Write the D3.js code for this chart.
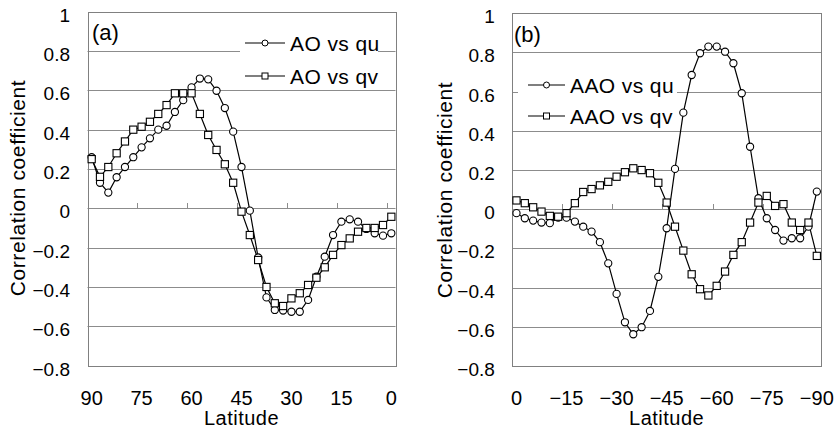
<!DOCTYPE html>
<html>
<head>
<meta charset="utf-8">
<script src="https://cdn.jsdelivr.net/npm/d3@7"></script>
<style>
  html, body { margin: 0; padding: 0; background: #fff; }
  svg { display: block; font-family: "Liberation Sans", Arial, sans-serif; }
</style>
</head>
<body>
<svg id="chart" width="835" height="433"></svg>
<script>
// ---------------- DATA ----------------
const latNH = [90, 87.5, 85, 82.5, 80, 77.5, 75, 72.5, 70, 67.5, 65, 62.5, 60, 57.5, 55, 52.5, 50, 47.5, 45,
  42.5, 40, 37.5, 35, 32.5, 30, 27.5, 25, 22.5, 20, 17.5, 15, 12.5, 10, 7.5, 5, 2.5, 0];
const latSH = [0, -2.5, -5, -7.5, -10, -12.5, -15, -17.5, -20, -22.5, -25, -27.5, -30, -32.5, -35, -37.5, -40, -42.5, -45,
  -47.5, -50, -52.5, -55, -57.5, -60, -62.5, -65, -67.5, -70, -72.5, -75, -77.5, -80, -82.5, -85, -87.5, -90];

const aoQu = [0.26, 0.13, 0.08, 0.158, 0.21, 0.26, 0.31, 0.356, 0.40, 0.42, 0.49, 0.55, 0.615, 0.66, 0.656, 0.598, 0.51, 0.39, 0.21,
  -0.012, -0.25, -0.453, -0.517, -0.52, -0.526, -0.526, -0.466, -0.348, -0.246, -0.136, -0.068, -0.056, -0.068, -0.105, -0.127, -0.139, -0.127];
const aoQv = [0.25, 0.16, 0.21, 0.28, 0.34, 0.40, 0.415, 0.44, 0.48, 0.525, 0.585, 0.585, 0.585, 0.48, 0.373, 0.297, 0.224, 0.13, -0.017,
  -0.136, -0.263, -0.40, -0.483, -0.497, -0.458, -0.432, -0.39, -0.353, -0.30, -0.237, -0.187, -0.153, -0.119, -0.10, -0.10, -0.085, -0.043];

const aaoQu = [-0.02, -0.046, -0.058, -0.068, -0.071, -0.043, -0.043, -0.063, -0.089, -0.114, -0.168, -0.276, -0.432, -0.577, -0.638, -0.602, -0.519, -0.345, -0.097,
  0.206, 0.493, 0.685, 0.796, 0.83, 0.83, 0.804, 0.745, 0.592, 0.319, 0.056, -0.046, -0.106, -0.16, -0.148, -0.148, -0.089, 0.09];
const aaoQv = [0.045, 0.031, 0.01, -0.012, -0.034, -0.038, -0.02, 0.031, 0.088, 0.103, 0.122, 0.14, 0.166, 0.189, 0.209, 0.20, 0.184, 0.135, 0.034,
  -0.089, -0.211, -0.332, -0.408, -0.44, -0.391, -0.318, -0.233, -0.168, -0.068, 0.034, 0.068, 0.017, 0.026, -0.068, -0.106, -0.068, -0.238];

const yTicks = [1, 0.8, 0.6, 0.4, 0.2, 0, -0.2, -0.4, -0.6, -0.8];
const xLabelsNH = ["90", "75", "60", "45", "30", "15", "0"];
const xLabelsSH = ["0", "\u221215", "\u221230", "\u221245", "\u221260", "\u221275", "\u221290"];
const legendNH = ["AO vs qu", "AO vs qv"];
const legendSH = ["AAO vs qu", "AAO vs qv"];
const panelLabels = ["(a)", "(b)"];

// ---------------- DRAW ----------------
const svg = d3.select("#chart");
const fmt = v => {
  if (v === 0) return "0";
  if (v === 1) return "1";
  const s = Math.abs(v).toFixed(1);
  return (v < 0 ? "\u2212" : "") + s;
};

function panel(cfg) {
  const g = svg.append("g");
  const n = cfg.cats.length;
  const x = d3.scaleLinear().domain([-0.5, n - 0.5]).range([cfg.left, cfg.right]);
  const y = d3.scaleLinear().domain([-0.8, 1]).range([cfg.bottom, cfg.top]);

  // gridlines
  g.selectAll("line.grid").data(yTicks.filter(v => v < 1 && v > -0.8)).enter().append("line")
    .attr("x1", cfg.left).attr("x2", cfg.right)
    .attr("y1", d => Math.round(y(d)) + 0.5).attr("y2", d => Math.round(y(d)) + 0.5)
    .attr("stroke", "#8c8c8c").attr("stroke-width", 1);

  // x tick marks on zero line (every 6 categories, at boundaries)
  const tickIdx = d3.range(-0.5, n, 6);
  g.selectAll("line.xt").data(tickIdx).enter().append("line")
    .attr("x1", d => Math.round(x(d)) + 0.5).attr("x2", d => Math.round(x(d)) + 0.5)
    .attr("y1", Math.round(y(0)) + 0.5).attr("y2", Math.round(y(0)) - 5)
    .attr("stroke", "#8c8c8c").attr("stroke-width", 1);

  // border
  g.append("rect")
    .attr("x", Math.round(cfg.left) + 0.5).attr("y", Math.round(cfg.top) + 0.5)
    .attr("width", Math.round(cfg.right - cfg.left)).attr("height", Math.round(cfg.bottom - cfg.top))
    .attr("fill", "none").attr("stroke", "#808080").attr("stroke-width", 1);

  // y tick labels
  g.selectAll("text.yl").data(yTicks).enter().append("text")
    .attr("x", cfg.left - 17.5).attr("y", d => y(d) + 10)
    .attr("text-anchor", "end").attr("font-size", 19).attr("fill", "#000")
    .text(fmt);

  // x tick labels (every 6th category)
  g.selectAll("text.xl").data(cfg.xLabels).enter().append("text")
    .attr("x", (d, i) => x(i * 6)).attr("y", 405)
    .attr("text-anchor", "middle").attr("font-size", 20).attr("fill", "#000")
    .text(d => d);

  // axis titles
  g.append("text").attr("x", (cfg.left + cfg.right) / 2).attr("y", 425)
    .attr("text-anchor", "middle").attr("font-size", 20).attr("letter-spacing", 0.5)
    .text("Latitude");
  g.append("text")
    .attr("transform", `translate(${cfg.ytX},${cfg.ytY}) rotate(-90)`)
    .attr("text-anchor", "middle").attr("font-size", 21).attr("letter-spacing", 0.6)
    .text("Correlation coefficient");

  // legend background
  g.append("rect").attr("x", cfg.leg.x).attr("y", cfg.leg.y).attr("width", cfg.leg.w).attr("height", cfg.leg.h)
    .attr("fill", "#fff");

  // series
  const line = d3.line().x((d, i) => x(i)).y(d => y(d));
  cfg.series.forEach((s, si) => {
    g.append("path").datum(s.values).attr("d", line)
      .attr("fill", "none").attr("stroke", "#000").attr("stroke-width", 1.2);
  });
  cfg.series.forEach((s, si) => {
    if (s.marker === "circle") {
      g.selectAll(null).data(s.values).enter().append("circle")
        .attr("cx", (d, i) => x(i)).attr("cy", d => y(d)).attr("r", 3.6)
        .attr("fill", "#fff").attr("stroke", "#000").attr("stroke-width", 1.1);
    } else {
      g.selectAll(null).data(s.values).enter().append("rect")
        .attr("x", (d, i) => x(i) - 3.6).attr("y", d => y(d) - 3.6)
        .attr("width", 7.2).attr("height", 7.2)
        .attr("fill", "#fff").attr("stroke", "#000").attr("stroke-width", 1.1);
    }
  });

  // legend entries
  cfg.series.forEach((s, si) => {
    const ry = cfg.leg.rows[si];
    g.append("line").attr("x1", cfg.leg.lx1).attr("x2", cfg.leg.lx2).attr("y1", ry).attr("y2", ry)
      .attr("stroke", "#000").attr("stroke-width", 1.2);
    const mx = (cfg.leg.lx1 + cfg.leg.lx2) / 2;
    if (s.marker === "circle") {
      g.append("circle").attr("cx", mx).attr("cy", ry).attr("r", 3)
        .attr("fill", "#fff").attr("stroke", "#000").attr("stroke-width", 1);
    } else {
      g.append("rect").attr("x", mx - 3).attr("y", ry - 3).attr("width", 6).attr("height", 6)
        .attr("fill", "#fff").attr("stroke", "#000").attr("stroke-width", 1);
    }
    g.append("text").attr("x", cfg.leg.tx).attr("y", ry + 7.5)
      .attr("font-size", 21).attr("letter-spacing", 0.4).text(s.name);
  });

  // panel label
  g.append("text").attr("x", cfg.plX).attr("y", cfg.plY).attr("font-size", 22).text(cfg.panelLabel);
}

panel({
  cats: latNH, xLabels: xLabelsNH,
  left: 87.5, right: 395.5, top: 11.7, bottom: 365.6,
  ytX: 25, ytY: 188,
  leg: { x: 240, y: 16, w: 138, h: 68, rows: [43, 76], lx1: 245, lx2: 285, tx: 290 },
  series: [
    { name: legendNH[0], values: aoQu, marker: "circle" },
    { name: legendNH[1], values: aoQv, marker: "square" }
  ],
  panelLabel: panelLabels[0], plX: 92, plY: 40
});

panel({
  cats: latSH, xLabels: xLabelsSH,
  left: 512.3, right: 821, top: 13.3, bottom: 366,
  ytX: 452, ytY: 190,
  leg: { x: 518, y: 60, w: 159, h: 68, rows: [85, 116], lx1: 528, lx2: 565, tx: 570 },
  series: [
    { name: legendSH[0], values: aaoQu, marker: "circle" },
    { name: legendSH[1], values: aaoQv, marker: "square" }
  ],
  panelLabel: panelLabels[1], plX: 514, plY: 41.5
});
</script>
</body>
</html>
